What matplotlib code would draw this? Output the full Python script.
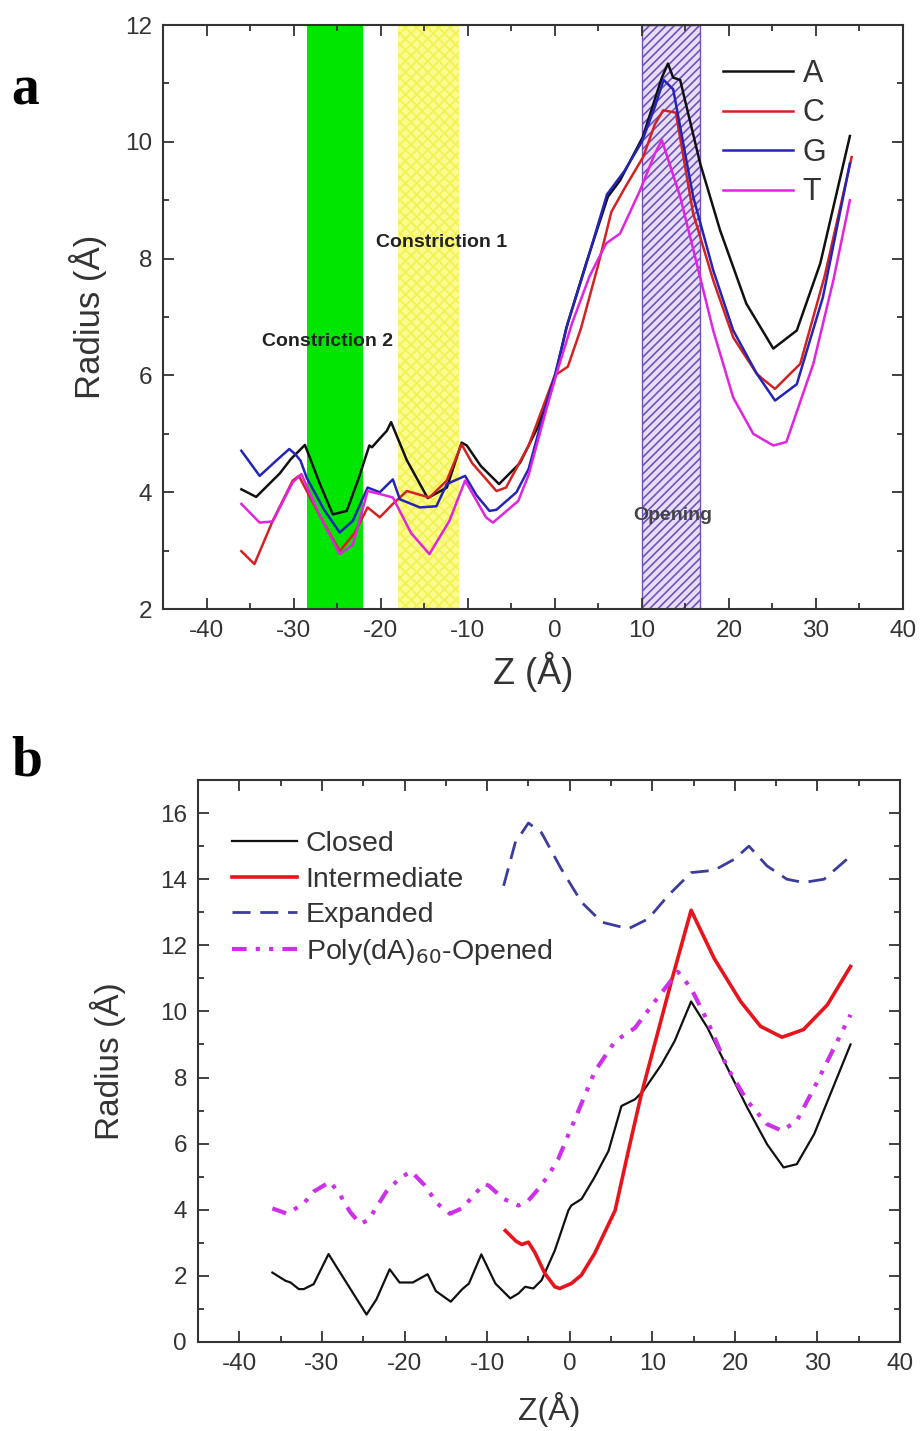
import matplotlib
matplotlib.use("Agg")
import matplotlib.pyplot as plt
from matplotlib.ticker import MultipleLocator

plt.rcParams["font.family"] = ["Liberation Sans", "DejaVu Sans"]
plt.rcParams["axes.unicode_minus"] = False
plt.rcParams["hatch.linewidth"] = 1.2

# ---- panel a : pore radius profiles for the four nucleotides ----
z_A = [-36, -34.3, -31.6, -30.3, -28.7, -27, -25.5, -23.9, -22.5, -21.3, -21, -20.1, -19.3, -18.8,
       -17, -14.6, -12.4, -10.7, -10.1, -8.5, -6.4, -4, -2, 0, 1.3, 3.6, 6.1, 7.5, 10.1, 12.3,
       13.0, 13.6, 14.4, 16.7, 19.0, 22.0, 25.1, 27.8, 30.5, 33.9]
r_A = [4.05, 3.92, 4.32, 4.57, 4.81, 4.15, 3.62, 3.68, 4.25, 4.8, 4.77, 4.92, 5.05, 5.2,
       4.55, 3.9, 4.08, 4.85, 4.8, 4.45, 4.14, 4.5, 5.1, 5.95, 6.8, 7.92, 9.06, 9.34, 10.08, 11.1,
       11.34, 11.1, 11.06, 9.63, 8.48, 7.23, 6.46, 6.77, 7.92, 10.1]

z_C = [-36, -34.5, -32.4, -30.1, -29.4, -27, -24.7, -23, -21.5, -20.1, -18.6, -17.0, -15.8, -14.4,
       -12.4, -10.7, -9.5, -6.7, -5.6, -3, -1, 0, 1.5, 3, 5, 6.5, 8, 10.15, 11.5, 12.45, 13.9,
       15.9, 18.2, 20.5, 23.2, 23.8, 25.3, 28.2, 31, 34.1]
r_C = [2.99, 2.77, 3.51, 4.2, 4.28, 3.6, 2.99, 3.3, 3.74, 3.57, 3.8, 4.02, 3.97, 3.91,
       4.2, 4.82, 4.5, 4.02, 4.08, 4.8, 5.6, 6.0, 6.15, 6.8, 7.9, 8.8, 9.2, 9.74, 10.3, 10.54, 10.5,
       8.77, 7.63, 6.65, 6.03, 5.95, 5.77, 6.2, 7.7, 9.74]

z_G = [-36, -33.9, -32, -30.5, -29.8, -29.2, -28.5, -26.5, -24.7, -23.2, -21.5, -20.1, -18.6, -17.8,
       -15.5, -13.6, -12.4, -10.3, -9, -7.5, -6.7, -4.4, -3, -1, 0, 1.5, 3.5, 6, 8, 10, 11.5, 12.5,
       13.6, 15.9, 18.2, 20.5, 23.2, 25.3, 27.8, 30.8, 33.9]
r_G = [4.71, 4.28, 4.54, 4.74, 4.65, 4.54, 4.25, 3.7, 3.31, 3.51, 4.08, 4.0, 4.22, 3.88,
       3.74, 3.76, 4.14, 4.28, 3.95, 3.68, 3.7, 4.0, 4.4, 5.5, 6.0, 6.9, 7.85, 9.1, 9.5, 10.0, 10.6, 11.06,
       10.9, 9.06, 7.8, 6.77, 6.03, 5.57, 5.85, 7.34, 9.63]

z_T = [-36, -33.9, -32.4, -30.1, -29.1, -27, -24.7, -23.2, -21.5, -20.1, -18.6, -16.5, -14.4, -12.1,
       -10.3, -7.9, -7.1, -4.2, -3, -1, 0.2, 2, 4, 5.9, 7.5, 9.8, 11.5, 12.3, 14.4, 16.3, 18.2,
       20.5, 22.8, 25.1, 26.6, 29.7, 32, 33.9]
r_T = [3.8, 3.48, 3.5, 4.17, 4.31, 3.6, 2.94, 3.1, 4.02, 3.97, 3.91, 3.3, 2.94, 3.51,
       4.2, 3.57, 3.48, 3.85, 4.3, 5.4, 6.03, 6.9, 7.7, 8.26, 8.43, 9.17, 9.8, 10.03, 9.06, 7.92, 6.77,
       5.62, 5.0, 4.8, 4.86, 6.2, 7.63, 9.0]

# shaded regions (z ranges)
constriction2 = (-28.5, -22.0)
constriction1 = (-18.0, -11.0)
opening = (10.0, 16.7)

# ---- panel b : pore states ----
z_closed = [-36, -34.4, -33.8, -32.8, -32.2, -31, -29.2, -27.8, -24.6, -23.4, -21.8, -20.6, -19.0,
            -17.2, -16.2, -14.4, -13, -12.2, -10.7, -9.0, -7.2, -6.2, -5.4, -4.4, -3.4, -1.8, -0.16,
            0.2, 1.45, 3.0, 4.7, 6.27, 7.9, 8.9, 11.1, 12.7, 14.7, 16.7, 19.1, 21.5, 23.9, 25.9,
            27.5, 29.6, 34.0]
r_closed = [2.1, 1.85, 1.8, 1.6, 1.6, 1.75, 2.66, 2.1, 0.83, 1.29, 2.2, 1.8, 1.8,
            2.05, 1.54, 1.22, 1.6, 1.77, 2.65, 1.77, 1.32, 1.47, 1.67, 1.62, 1.87, 2.77, 3.98,
            4.13, 4.33, 4.98, 5.78, 7.14, 7.34, 7.59, 8.39, 9.1, 10.3, 9.5, 8.29, 7.09, 5.98, 5.28,
            5.38, 6.29, 9.0]

z_inter = [-7.8, -6.5, -5.8, -5.0, -4.2, -3.0, -1.8, -1.2, 0.2, 1.4, 3.0, 5.5, 7.1, 8.67, 12.3,
           14.7, 17.5, 20.7, 23.1, 25.7, 28.3, 31.2, 34.0]
r_inter = [3.37, 3.05, 2.95, 3.02, 2.7, 2.07, 1.67, 1.62, 1.77, 2.02, 2.67, 3.98, 5.78, 7.49, 10.9,
           13.06, 11.6, 10.3, 9.55, 9.22, 9.45, 10.2, 11.36]

z_expanded = [-8.0, -6.6, -5.0, -3.4, -1.0, 1.45, 3.9, 7.1, 9.5, 11.9, 14.7, 17.5, 19.9, 21.7,
              23.9, 26.3, 28.3, 30.8, 34.0]
r_expanded = [13.8, 15.1, 15.7, 15.4, 14.3, 13.3, 12.7, 12.5, 12.8, 13.5, 14.2, 14.27, 14.6, 15.0,
              14.4, 14.0, 13.9, 14.0, 14.7]

z_opened = [-36, -34.2, -32.2, -31, -29, -27.8, -26.6, -25.4, -24.4, -22.2, -20.6, -19.2, -17.6, -16,
            -14.5, -13.0, -11.6, -10.4, -9.8, -8.0, -6.2, -5.0, -3.8, -2.6, -1.4, 1.05, 3.05, 5.5,
            7.9, 10.3, 13.1, 14.7, 16.7, 19.1, 21.5, 23.9, 25.7, 27.5, 29.6, 34]
r_opened = [4.04, 3.88, 4.19, 4.55, 4.85, 4.45, 3.94, 3.58, 3.68, 4.55, 4.95, 5.16, 4.75, 4.18,
            3.88, 4.05, 4.44, 4.78, 4.73, 4.33, 4.13, 4.28, 4.63, 5.03, 5.53, 6.99, 8.19, 9.1,
            9.5, 10.3, 11.2, 10.7, 9.7, 8.29, 7.29, 6.59, 6.39, 6.69, 7.69, 9.9]

TXT = "#333333"


def style_axes(ax, ymin, ymax):
    ax.set_xlim(-45, 40)
    ax.set_ylim(ymin, ymax)
    ax.xaxis.set_major_locator(MultipleLocator(10))
    ax.xaxis.set_minor_locator(MultipleLocator(5))
    ax.yaxis.set_major_locator(MultipleLocator(2))
    ax.yaxis.set_minor_locator(MultipleLocator(1))
    ax.tick_params(which="both", direction="in", top=True, right=True,
                   labeltop=False, labelright=False, colors=TXT,
                   labelsize=17.5, width=1.3, pad=8)
    ax.tick_params(which="major", length=8)
    ax.tick_params(which="minor", length=4)
    for s in ax.spines.values():
        s.set_color(TXT)
        s.set_linewidth(1.5)


fig = plt.figure(figsize=(9.22, 14.31), dpi=100)

# panel a
ax1 = fig.add_axes([0.1768, 0.5744, 0.8026, 0.4081])
ax1.axvspan(*constriction2, color="#00e600", lw=0, zorder=0)
ax1.axvspan(*constriction1, facecolor="#fbfb90", edgecolor="#f2f250", hatch="xxx",
            lw=0, zorder=0)
ax1.axvspan(*opening, facecolor="#e6defa", edgecolor="#7252b8", hatch="////",
            lw=1, zorder=0)

ax1.plot(z_A, r_A, color="#111111", lw=1.8, label="A")
ax1.plot(z_C, r_C, color="#d42222", lw=1.8, label="C")
ax1.plot(z_G, r_G, color="#2424b8", lw=1.8, label="G")
ax1.plot(z_T, r_T, color="#e024e0", lw=1.8, label="T")

ax1.text(-13, 8.28, "Constriction 1", fontsize=14, fontweight="bold", color="#222222",
         ha="center", va="center")
ax1.text(-26.1, 6.58, "Constriction 2", fontsize=14, fontweight="bold", color="#222222",
         ha="center", va="center")
ax1.text(13.6, 3.6, "Opening", fontsize=14, fontweight="bold", color="#444444",
         ha="center", va="center")

style_axes(ax1, 2, 12)
ax1.set_xlabel("Z (Å)", fontsize=26, color=TXT, labelpad=7)
ax1.set_ylabel("Radius (Å)", fontsize=25, color=TXT, labelpad=13)
ax1.legend(loc="upper left", bbox_to_anchor=(0.757, 0.942), frameon=False, fontsize=22,
           handlelength=2.3, handletextpad=0.3, labelspacing=0.31,
           borderpad=0, borderaxespad=0, labelcolor=TXT)

# panel b
ax2 = fig.add_axes([0.2148, 0.0622, 0.7614, 0.3927])
ax2.plot(z_closed, r_closed, color="#111111", lw=1.6, label="Closed")
ax2.plot(z_inter, r_inter, color="#e8141c", lw=2.6, label="Intermediate")
ax2.plot(z_expanded, r_expanded, color="#3c3c9c", lw=2.0, dashes=(6.5, 3.5), label="Expanded")
ax2.plot(z_opened, r_opened, color="#cc30e8", lw=3.0, dashes=(3.5, 2.2, 1, 2.2, 1, 2.2),
         label="Poly(dA)$_{60}$-Opened")

style_axes(ax2, 0, 17)
ax2.set_xlabel("Z(Å)", fontsize=23, color=TXT, labelpad=12)
ax2.set_ylabel("Radius (Å)", fontsize=24, color=TXT, labelpad=24)
ax2.legend(loc="upper left", bbox_to_anchor=(0.048, 0.909), frameon=False, fontsize=20.5,
           handlelength=2.3, handletextpad=0.3, labelspacing=0.33,
           borderpad=0, borderaxespad=0, labelcolor=TXT)

fig.text(0.012, 0.927, "a", family="Liberation Serif", fontweight="bold", fontsize=40)
fig.text(0.012, 0.458, "b", family="Liberation Serif", fontweight="bold", fontsize=40)

fig.savefig("out.png", dpi=100)
